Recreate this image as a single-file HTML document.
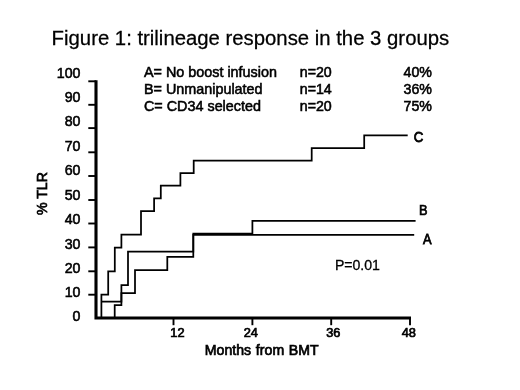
<!DOCTYPE html>
<html>
<head>
<meta charset="utf-8">
<title>Figure 1</title>
<style>
html,body{margin:0;padding:0;background:#fff;}
body{width:520px;height:390px;overflow:hidden;font-family:"Liberation Sans",sans-serif;}
svg{display:block;filter:grayscale(1) blur(0.3px);}
text{font-family:"Liberation Sans",sans-serif;fill:#000;stroke:#000;stroke-width:0.55px;}
.hv text{stroke-width:0.7px;}
</style>
</head>
<body>
<svg width="520" height="390" viewBox="0 0 520 390">
<rect width="520" height="390" fill="#fff"/>
<!-- title -->
<text transform="translate(51.6,45.3) scale(1.048,1)" font-size="19.4" style="stroke-width:0.25px">Figure 1: trilineage response in the 3 groups</text>
<!-- legend -->
<g font-size="14.2">
<text x="144" y="76.5" font-size="14.36">A= No boost infusion</text>
<text x="144" y="93.8" font-size="14.36">B= Unmanipulated</text>
<text x="144" y="111" font-size="14.36">C= CD34 selected</text>
<text x="299.8" y="76.5">n=20</text>
<text x="299.8" y="93.8">n=14</text>
<text x="299.8" y="111">n=20</text>
<text x="432" y="76.5" text-anchor="end">40%</text>
<text x="432" y="93.8" text-anchor="end">36%</text>
<text x="432" y="111" text-anchor="end">75%</text>
</g>
<!-- y labels -->
<g font-size="14.2" text-anchor="end">
<text x="80.5" y="77.6">100</text>
<text x="80.5" y="102">90</text>
<text x="80.5" y="126.4">80</text>
<text x="80.5" y="150.6">70</text>
<text x="80.5" y="175.2">60</text>
<text x="80.5" y="199.9">50</text>
<text x="80.5" y="224.3">40</text>
<text x="80.5" y="248.8">30</text>
<text x="80.5" y="272.8">20</text>
<text x="80.5" y="297.2">10</text>
<text x="80.5" y="320.8">0</text>
</g>
<!-- y title -->
<text font-size="14.1" style="stroke-width:0.7px" transform="translate(46.5,215) rotate(-90)">% TLR</text>
<!-- axes -->
<g stroke="#000" fill="none">
<path d="M96 80.3 V318 H411" stroke-width="3.1" stroke-linejoin="miter"/>
<g stroke-width="1.9">
<path d="M88.3 81.3 H96"/>
<path d="M88.3 104.8 H96"/>
<path d="M88.3 128.1 H96"/>
<path d="M88.3 152.3 H96"/>
<path d="M88.3 176 H96"/>
<path d="M88.3 200 H96"/>
<path d="M88.3 223.5 H96"/>
<path d="M88.3 247.4 H96"/>
<path d="M88.3 271.3 H96"/>
<path d="M88.3 294.7 H96"/>
<path d="M173.5 318 V325.2"/>
<path d="M252.4 318 V325.2"/>
<path d="M331.2 318 V325.2"/>
<path d="M410 318 V325.2"/>
</g>
<!-- curves -->
<g stroke-width="1.75" stroke-linejoin="miter">
<path d="M101.4 318 V294.6 H108.2 V271.3 H114.8 V247.6 H121.4 V234.5 H141 V211.1 H154.1 V198.3 H160.8 V185.6 H180.4 V173.2 H193.7 V160.6 H311.7 V148 H364.2 V135.4 H407.7"/>
<path d="M101.4 301.6 H121.4 V285.2 H128 V251.7 H193.3 V233.6 H252.4 V220.8 H415.6"/>
<path d="M114.7 318 V305 H121.4 V293 H135 V270 H167.3 V256.8 H193.3 V234.8 H414.2"/>
</g>
</g>
<!-- curve labels -->
<g font-size="13.5">
<text transform="translate(413.7,141.7) scale(0.98,1.08)" style="stroke-width:0.75px">C</text>
<text transform="translate(419,215.4) scale(0.95,1.08)" style="stroke-width:0.65px">B</text>
<text transform="translate(423.1,243.9) scale(0.95,1.06)" style="stroke-width:0.75px">A</text>
<text x="334.9" y="270.1" font-size="14.1" style="stroke-width:0.3px">P=0.01</text>
</g>
<!-- x labels -->
<g font-size="12.8" text-anchor="middle" class="hv">
<text x="177.4" y="336.7">12</text>
<text x="250.8" y="336.7">24</text>
<text x="333.3" y="336.7">36</text>
<text x="408.8" y="336.7">48</text>
</g>
<text x="204.8" y="354.6" font-size="14.1" style="stroke-width:0.7px;letter-spacing:0.03px;word-spacing:0.7px">Months from BMT</text>
</svg>
</body>
</html>
